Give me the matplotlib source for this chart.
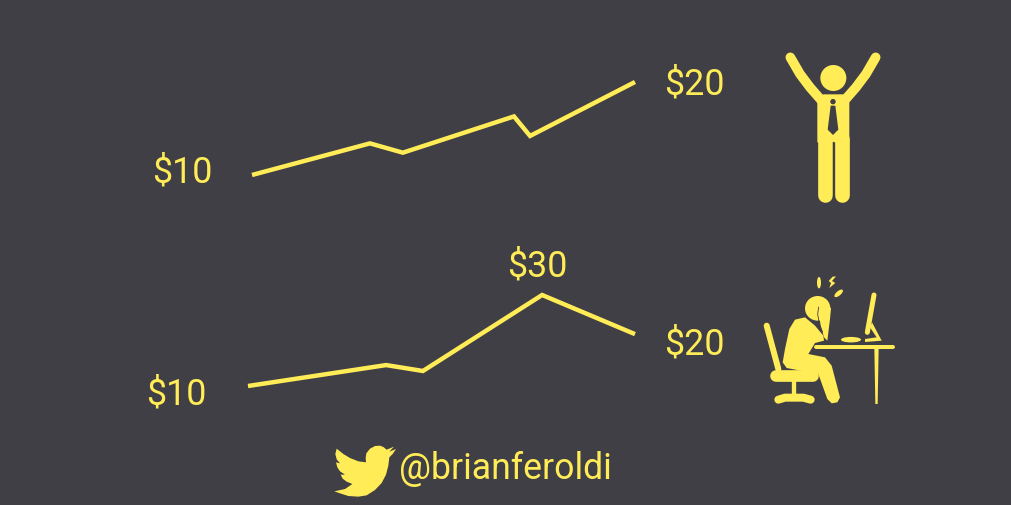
import matplotlib
matplotlib.use('Agg')
import matplotlib.pyplot as plt
from matplotlib.patches import Circle, Ellipse, Polygon

W, H = 1012, 506
BG = '#403f46'
YELLOW = '#ffec57'
plt.rcParams['font.family'] = ['Roboto', 'DejaVu Sans']

# progress through the period (0-100) and price in dollars
top_x = [0, 30.8, 39.4, 68.4, 72.6, 100]
top_price = [10, 13.4, 12.4, 16.3, 14.2, 20]
bottom_x = [0, 35.7, 45.2, 76, 100]
bottom_price = [10, 14.6, 13.3, 30, 21.4]

top_labels = ['$10', '$20']
bottom_labels = ['$10', '$30', '$20']
handle = '@brianferoldi'


def make_axes(fig, left, right, y_low, y_high, ylim):
    # axes placed by pixel edges, y_low is the pixel row of ylim[0]
    ax = fig.add_axes([left / W, 1 - y_low / H, (right - left) / W, (y_low - y_high) / H])
    ax.set_xlim(0, 100)
    ax.set_ylim(*ylim)
    ax.axis('off')
    return ax


fig = plt.figure(figsize=(W / 100, H / 100), dpi=100, facecolor=BG)

ax_top = make_axes(fig, 252, 635, 176, 83, (10, 20))
ax_top.plot(top_x, top_price, color=YELLOW, lw=3.2, solid_joinstyle='miter',
            solid_capstyle='butt', clip_on=False)

ax_bottom = make_axes(fig, 248, 635, 387, 296, (10, 30))
ax_bottom.plot(bottom_x, bottom_price, color=YELLOW, lw=3.2, solid_joinstyle='miter',
               solid_capstyle='butt', clip_on=False)

# overlay in pixel space for the texts and the icons
ov = fig.add_axes([0, 0, 1, 1], facecolor='none')
ov.set_xlim(0, W)
ov.set_ylim(H, 0)
ov.axis('off')

ov.text(182, 172, top_labels[0], color=YELLOW, fontsize=25.8, ha='center', va='center')
ov.text(694, 84, top_labels[1], color=YELLOW, fontsize=25.8, ha='center', va='center')
ov.text(176, 395, bottom_labels[0], color=YELLOW, fontsize=25.8, ha='center', va='center')
ov.text(537, 267, bottom_labels[1], color=YELLOW, fontsize=25.8, ha='center', va='center')
ov.text(694, 344, bottom_labels[2], color=YELLOW, fontsize=25.8, ha='center', va='center')
ov.text(399, 469, handle, color=YELLOW, fontsize=25.7, ha='left', va='center')


def poly(points, ox, oy, color=YELLOW):
    # points are given in the 3x crop coordinates of the icon
    ov.add_patch(Polygon([(ox + x / 3, oy + y / 3) for x, y in points], closed=True,
                         facecolor=color, edgecolor='none'))


def stroke(points, ox, oy, width, color=YELLOW):
    xs = [ox + p[0] / 3 for p in points]
    ys = [oy + p[1] / 3 for p in points]
    ov.plot(xs, ys, color=color, lw=width / 3 * 0.72, solid_capstyle='round', solid_joinstyle='round')


# happy man
ox, oy = 760, 40
ov.add_patch(Circle((ox + 220 / 3, oy + 117 / 3), 13, color=YELLOW, lw=0))
stroke([(91, 55), (120, 105), (150, 145), (185, 185)], ox, oy, 29)
stroke([(347, 55), (318, 105), (288, 145), (253, 185)], ox, oy, 29)
poly([(172, 185), (190, 166), (250, 166), (268, 185), (268, 310), (172, 310)], ox, oy)
stroke([(194, 300), (194, 467)], ox, oy, 44)
stroke([(245, 300), (245, 467)], ox, oy, 44)
ov.plot([ox + 219 / 3, ox + 219 / 3], [oy + 310 / 3, oy + 490 / 3], color=BG, lw=0.9)
ov.add_patch(Circle((ox + 219 / 3, oy + 188 / 3), 2.7, color=BG, lw=0))
poly([(212, 200), (226, 200), (235, 272), (219, 288), (203, 272)], ox, oy, BG)

# stressed man at the desk
ox, oy = 750, 270
stroke([(50, 170), (85, 300)], ox, oy, 18)
stroke([(78, 322), (188, 322)], ox, oy, 35)
stroke([(133, 335), (133, 380)], ox, oy, 13)
stroke([(85, 392), (105, 386), (160, 386), (182, 392)], ox, oy, 24)
poly([(118, 180), (135, 152), (165, 145), (195, 170), (220, 200), (222, 215), (195, 222), (175, 255),
      (225, 265), (245, 290), (270, 385), (262, 400), (245, 403), (232, 390), (205, 315), (110, 297),
      (98, 280), (105, 240)], ox, oy)
ov.add_patch(Ellipse((ox + 203 / 3, oy + 118 / 3), 76 / 3, 74 / 3, color=YELLOW, lw=0))
stroke([(206, 114), (203, 135), (208, 165), (218, 190)], ox, oy, 2.5, BG)
poly([(210, 112), (225, 106), (243, 118), (240, 150), (232, 215), (222, 205), (212, 170), (207, 135)], ox, oy)
stroke([(198, 233), (428, 233)], ox, oy, 12)
poly([(373, 235), (386, 235), (383, 405), (376, 405)], ox, oy)
stroke([(372, 78), (352, 190)], ox, oy, 15)
poly([(366, 160), (395, 215), (345, 219), (345, 210), (380, 205), (360, 175)], ox, oy)
ov.add_patch(Ellipse((ox + 303 / 3, oy + 212 / 3), 20, 5.5, color=YELLOW, lw=0))
ov.add_patch(Ellipse((ox + 207 / 3, oy + 41 / 3), 4, 11.5, color=YELLOW, lw=0))
poly([(258, 22), (246, 36), (256, 42), (238, 57), (243, 42), (236, 36), (248, 23)], ox, oy)
ov.add_patch(Ellipse((ox + 266 / 3, oy + 73 / 3), 10.5, 4.5, angle=-40, color=YELLOW, lw=0))

# twitter bird
ox, oy = 325, 435
poly([(28, 172), (45, 178), (70, 186), (100, 188), (125, 184), (150, 168), (170, 147), (183, 122),
      (190, 95), (193, 70), (203, 60), (213, 45), (193, 53), (207, 38), (185, 47), (175, 39), (165, 35),
      (150, 36), (135, 44), (124, 58), (122, 72), (123, 85), (100, 82), (75, 72), (55, 60), (35, 44),
      (31, 60), (35, 76), (45, 88), (33, 85), (37, 100), (45, 112), (60, 122), (47, 122), (53, 134),
      (65, 143), (82, 150), (60, 165)], ox, oy)

fig.savefig('out.png', dpi=100, facecolor=BG)
